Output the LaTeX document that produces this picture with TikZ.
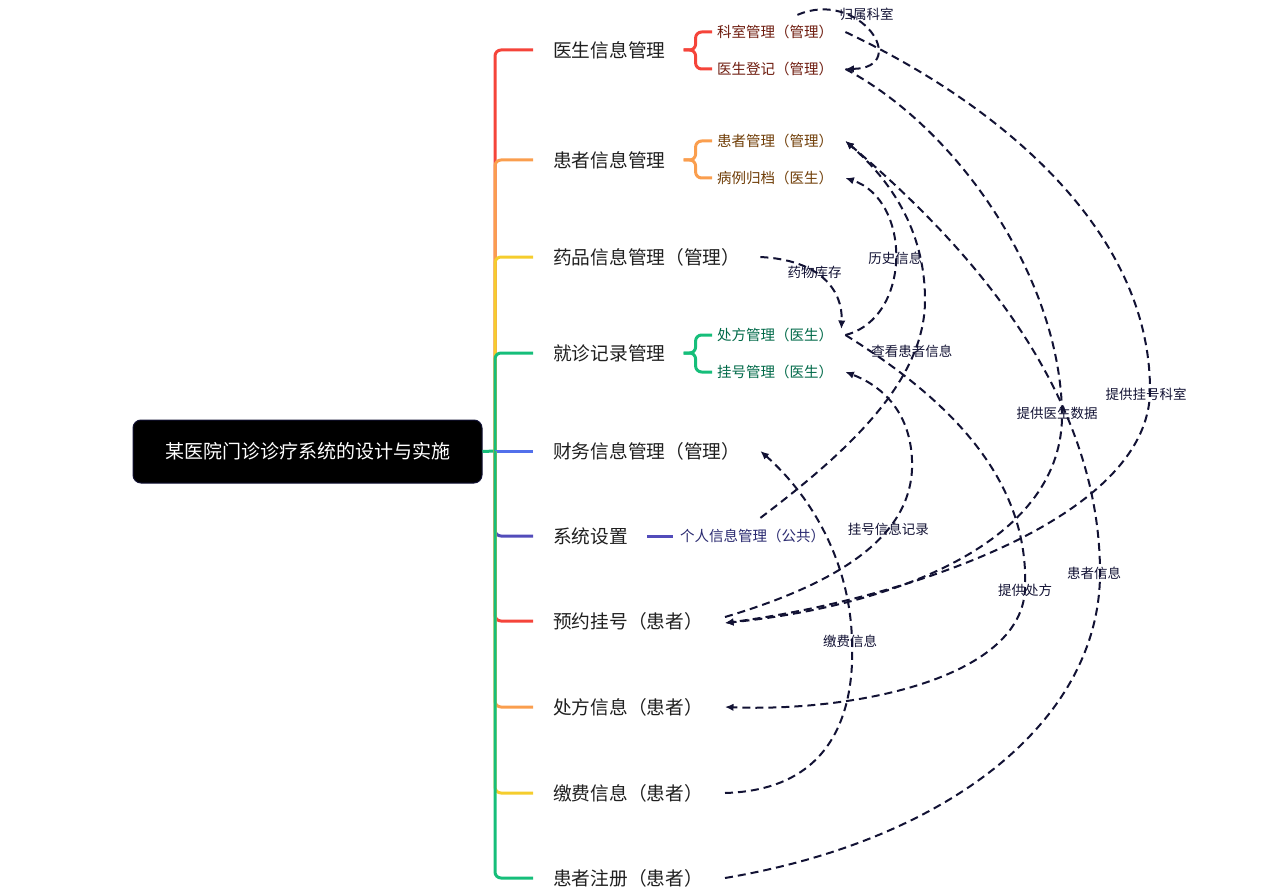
\documentclass[tikz,border=0pt]{standalone}
\usepackage{fontspec}
\setmainfont{Noto Sans CJK SC}
\usetikzlibrary{arrows.meta}
\definecolor{brRed}{RGB}{245,68,58}
\definecolor{brOrange}{RGB}{250,158,78}
\definecolor{brYellow}{RGB}{245,205,45}
\definecolor{brGreen}{RGB}{22,190,122}
\definecolor{brBlue}{RGB}{82,112,235}
\definecolor{brIndigo}{RGB}{82,76,186}
\definecolor{txRed}{RGB}{110,28,15}
\definecolor{txOrange}{RGB}{112,62,8}
\definecolor{txGreen}{RGB}{0,105,72}
\definecolor{txIndigo}{RGB}{42,42,112}
\definecolor{relInk}{RGB}{18,18,52}
\begin{document}
\begin{tikzpicture}[x=1pt,y=-1pt,line join=round,>={Latex[length=8.5pt,width=7.5pt]},
  root/.style={fill=black,draw=relInk,line width=1pt,rounded corners=8pt,text=white,
    minimum width=349pt,minimum height=63pt,font=\fontsize{19}{22}\selectfont},
  topic/.style={anchor=west,inner sep=0pt,text=black!88,font=\fontsize{18.7}{22}\selectfont},
  subtopic/.style={anchor=west,inner sep=0pt,font=\fontsize{14.5}{17}\selectfont},
  branch/.style={line width=3pt,rounded corners=6pt},
  rel/.style={relInk,line width=2pt,dash pattern=on 8pt off 5pt,->},
  lbl/.style={inner sep=0pt,text=relInk,font=\fontsize{13.5}{16}\selectfont}]
  \useasboundingbox (0,0) rectangle (1287,896);

  % centre topic and trunk
  \node[root] (root) at (307.5,451.5) {某医院门诊诊疗系统的设计与实施};
  \coordinate (trunk) at (495,451);
  \draw[branch,brGreen] (root.east) -- (trunk);

  % main topics
  \foreach \nm/\y/\col/\txt in {ysxx/50/brRed/医生信息管理, hzxx/160/brOrange/患者信息管理,
      ypxx/257/brYellow/药品信息管理（管理）, jzjl/353/brGreen/就诊记录管理} {
      \node[topic] (\nm) at (553,\y) {\txt};
      \draw[branch,\col] (trunk) |- ([xshift=-20pt]\nm.west);
    }
  \node[topic] (cwxx) at (553,451) {财务信息管理（管理）};
  \draw[branch,brBlue] (trunk) -- ([xshift=-20pt]cwxx.west);
  \foreach \nm/\y/\col/\txt in {xtsz/536/brIndigo/系统设置, yygh/621/brRed/预约挂号（患者）,
      cfxx/707/brOrange/处方信息（患者）, jfxx/793/brYellow/缴费信息（患者）,
      hzzc/878/brGreen/患者注册（患者）} {
      \node[topic] (\nm) at (553,\y) {\txt};
      \draw[branch,\col] (trunk) |- ([xshift=-20pt]\nm.west);
    }

  % sub topics
  \foreach \nm/\hub/\y/\col/\ink/\txt in {kszg/ysxx/32/brRed/txRed/科室管理（管理）,
      ysdj/ysxx/69/brRed/txRed/医生登记（管理）, hzgl/hzxx/141/brOrange/txOrange/患者管理（管理）,
      blgd/hzxx/178/brOrange/txOrange/病例归档（医生）, cfgl/jzjl/335/brGreen/txGreen/处方管理（医生）,
      ghgl/jzjl/372/brGreen/txGreen/挂号管理（医生）} {
      \node[subtopic,text=\ink] (\nm) at (717,\y) {\txt};
      \draw[branch,\col] ([xshift=18pt]\hub.east) -- ++(12,0) |- ([xshift=-5pt]\nm.west);
    }
  \node[subtopic,text=txIndigo] (grxx) at (680,536) {个人信息管理（公共）};
  \draw[branch,brIndigo] ([xshift=19pt]xtsz.east) -- ([xshift=-7pt]grxx.west);

  % relations
  \draw[rel] ([xshift=-36pt,yshift=10pt]kszg.north east) .. controls (860,-12) and (912,68) .. ([xshift=12pt]ysdj.east)
    node[lbl,pos=0.42,xshift=4pt,yshift=9pt] {归属科室};
  \draw[rel] ([xshift=12pt]kszg.east) .. controls (1000,105) and (1150,230) .. (1150,390) node[lbl,xshift=-4pt,yshift=-4pt] {提供挂号科室}
    .. controls (1150,520) and (900,600) .. ([xshift=22pt,yshift=-2pt]yygh.east);
  \draw[rel] ([xshift=12pt]ysdj.east) .. controls (960,130) and (1060,280) .. (1062,413) node[lbl,xshift=-5pt] {提供医生数据}
    .. controls (1064,540) and (900,605) .. ([xshift=22pt,yshift=-2pt]yygh.east);
  \draw[rel] ([xshift=20pt]ypxx.east) .. controls (820,260) and (843,290) .. ([xshift=8pt,yshift=6pt]cfgl.east)
    node[lbl,pos=0.45,xshift=-5pt,yshift=3pt] {药物库存};
  \draw[rel] ([xshift=12pt]cfgl.east) .. controls (912,318) and (912,200) .. ([xshift=12pt]blgd.east)
    node[lbl,pos=0.5] {历史信息};
  \draw[rel] ([xshift=12pt]cfgl.east) .. controls (950,400) and (1030,480) .. (1025,590) node[lbl] {提供处方}
    .. controls (1020,680) and (850,712) .. ([xshift=22pt]cfxx.east);
  \draw[rel] ([xshift=-65pt,yshift=11pt]grxx.north east) .. controls (850,450) and (925,380) .. (925,300)
    node[lbl,pos=0.75,yshift=7pt] {查看患者信息} .. controls (925,230) and (890,180) .. ([xshift=12pt]hzgl.east);
  \draw[rel] ([xshift=22pt]hzzc.east) .. controls (950,840) and (1100,720) .. (1100,573) node[lbl,xshift=-6pt] {患者信息}
    .. controls (1100,380) and (950,230) .. ([xshift=12pt]hzgl.east);
  \draw[rel] ([xshift=22pt,yshift=4pt]yygh.east) .. controls (850,580) and (915,530) .. (912,460)
    node[lbl,pos=0.6,xshift=5pt,yshift=6pt] {挂号信息记录} .. controls (910,410) and (880,385) .. ([xshift=12pt]ghgl.east);
  \draw[rel] ([xshift=22pt]jfxx.east) .. controls (830,790) and (855,715) .. (852,641) node[lbl,xshift=-2pt] {缴费信息}
    .. controls (850,560) and (810,495) .. ([xshift=20pt]cwxx.east);
\end{tikzpicture}
\end{document}
